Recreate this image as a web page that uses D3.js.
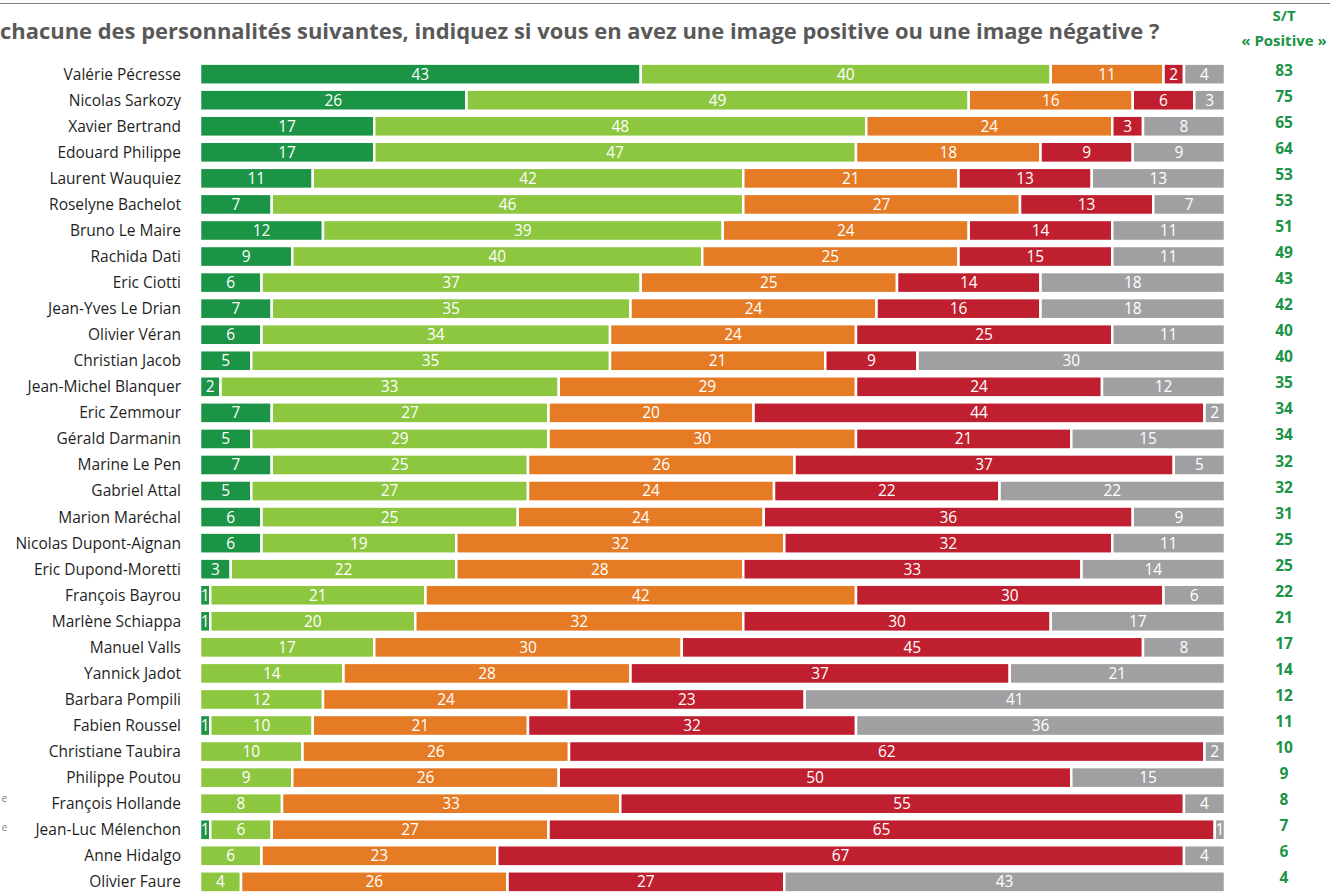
<!DOCTYPE html>
<html>
<head>
<meta charset="utf-8">
<script src="https://cdn.jsdelivr.net/npm/d3@7"></script>
<style>
  body { margin: 0; background: #fff; }
  svg { display: block; font-family: 'Open Sans', sans-serif; }
</style>
</head>
<body>
<svg width="1330" height="894"></svg>
<script>
const names = [
  'Valérie Pécresse', 'Nicolas Sarkozy', 'Xavier Bertrand', 'Edouard Philippe',
  'Laurent Wauquiez', 'Roselyne Bachelot', 'Bruno Le Maire', 'Rachida Dati',
  'Eric Ciotti', 'Jean-Yves Le Drian', 'Olivier Véran', 'Christian Jacob',
  'Jean-Michel Blanquer', 'Eric Zemmour', 'Gérald Darmanin', 'Marine Le Pen',
  'Gabriel Attal', 'Marion Maréchal', 'Nicolas Dupont-Aignan', 'Eric Dupond-Moretti',
  'François Bayrou', 'Marlène Schiappa', 'Manuel Valls', 'Yannick Jadot',
  'Barbara Pompili', 'Fabien Roussel', 'Christiane Taubira', 'Philippe Poutou',
  'François Hollande', 'Jean-Luc Mélenchon', 'Anne Hidalgo', 'Olivier Faure'
];
const tresPositive =   [43, 26, 17, 17, 11, 7, 12, 9, 6, 7, 6, 5, 2, 7, 5, 7, 5, 6, 6, 3, 1, 1, 0, 0, 0, 1, 0, 0, 0, 1, 0, 0];
const plutotPositive = [40, 49, 48, 47, 42, 46, 39, 40, 37, 35, 34, 35, 33, 27, 29, 25, 27, 25, 19, 22, 21, 20, 17, 14, 12, 10, 10, 9, 8, 6, 6, 4];
const plutotNegative = [11, 16, 24, 18, 21, 27, 24, 25, 25, 24, 24, 21, 29, 20, 30, 26, 24, 24, 32, 28, 42, 32, 30, 28, 24, 21, 26, 26, 33, 27, 23, 26];
const tresNegative =   [2, 6, 3, 9, 13, 13, 14, 15, 14, 16, 25, 9, 24, 44, 21, 37, 22, 36, 32, 33, 30, 30, 45, 37, 23, 32, 62, 50, 55, 65, 67, 27];
const nsp =            [4, 3, 8, 9, 13, 7, 11, 11, 18, 18, 11, 30, 12, 2, 15, 5, 22, 9, 11, 14, 6, 17, 8, 21, 41, 36, 2, 15, 4, 1, 4, 43];
const totalPositive =  [83, 75, 65, 64, 53, 53, 51, 49, 43, 42, 40, 40, 35, 34, 34, 32, 32, 31, 25, 25, 22, 21, 17, 14, 12, 11, 10, 9, 8, 7, 6, 4];

const keys = ['tp', 'pp', 'pn', 'tn', 'nsp'];
const colors = ['#1b9446', '#8dc63f', '#e57b25', '#c01f2f', '#a0a0a2'];

const data = names.map((name, i) => ({
  name,
  tp: tresPositive[i],
  pp: plutotPositive[i],
  pn: plutotNegative[i],
  tn: tresNegative[i],
  nsp: nsp[i],
  st: totalPositive[i]
}));

const svg = d3.select('svg');

const x = d3.scaleLinear().domain([0, 100]).range([200, 1225]);
const y = d3.scaleBand().domain(names).range([61, 895]).paddingInner(0.19).paddingOuter(0.1);

const color = d3.scaleOrdinal().domain(keys).range(colors);

const stack = d3.stack().keys(keys)(data);

// top rule
svg.append('line')
  .attr('x1', 0).attr('x2', 1330)
  .attr('y1', 3.5).attr('y2', 3.5)
  .attr('stroke', '#7f7f7f')
  .attr('stroke-width', 1.2);

// title, fitted to width
const title = svg.append('text')
  .attr('x', 0)
  .attr('y', 39)
  .attr('fill', '#595959')
  .attr('font-weight', 'bold')
  .attr('font-size', 22)
  .text('chacune des personnalités suivantes, indiquez si vous en avez une image positive ou une image négative ?');
const tw = title.node().getComputedTextLength();
title.attr('font-size', 22 * 1160 / tw);

// S/T header
svg.append('text')
  .attr('x', 1284).attr('y', 21)
  .attr('text-anchor', 'middle')
  .attr('fill', '#1b9446')
  .attr('font-weight', 'bold')
  .attr('font-size', 15)
  .text('S/T');
svg.append('text')
  .attr('x', 1284).attr('y', 46)
  .attr('text-anchor', 'middle')
  .attr('fill', '#1b9446')
  .attr('font-weight', 'bold')
  .attr('font-size', 15)
  .text('« Positive »');

// left cut-off note fragments
svg.append('text').attr('x', 7).attr('y', 802).attr('text-anchor', 'end')
  .attr('fill', '#7f7f7f').attr('font-size', 10).text('e');
svg.append('text').attr('x', 7).attr('y', 831).attr('text-anchor', 'end')
  .attr('fill', '#7f7f7f').attr('font-size', 10).text('e');

// row labels
svg.append('g')
  .selectAll('text')
  .data(data)
  .join('text')
  .attr('x', 181)
  .attr('y', d => y(d.name) + y.bandwidth() / 2)
  .attr('dy', '0.35em')
  .attr('text-anchor', 'end')
  .attr('fill', '#1f1f1f')
  .attr('font-size', 15.5)
  .text(d => d.name);

// bars
const layers = svg.append('g')
  .selectAll('g')
  .data(stack)
  .join('g')
  .attr('fill', d => color(d.key));

layers.selectAll('rect')
  .data(d => d.filter(s => s[1] - s[0] > 0))
  .join('rect')
  .attr('x', d => x(d[0]))
  .attr('y', d => y(d.data.name))
  .attr('width', d => x(d[1]) - x(d[0]))
  .attr('height', y.bandwidth())
  .attr('stroke', '#fff')
  .attr('stroke-width', 2.5);

layers.selectAll('text')
  .data(d => d.filter(s => s[1] - s[0] > 0))
  .join('text')
  .attr('x', d => (x(d[0]) + x(d[1])) / 2)
  .attr('y', d => y(d.data.name) + y.bandwidth() / 2)
  .attr('dy', '0.35em')
  .attr('text-anchor', 'middle')
  .attr('fill', '#fff')
  .attr('font-size', 15.5)
  .text(d => d[1] - d[0]);

// S/T column values
svg.append('g')
  .selectAll('text')
  .data(data)
  .join('text')
  .attr('x', 1284)
  .attr('y', d => y(d.name) + y.bandwidth() / 2)
  .attr('dy', '0.1em')
  .attr('text-anchor', 'middle')
  .attr('fill', '#1b9446')
  .attr('font-weight', 'bold')
  .attr('font-size', 15.5)
  .text(d => d.st);
</script>
</body>
</html>
